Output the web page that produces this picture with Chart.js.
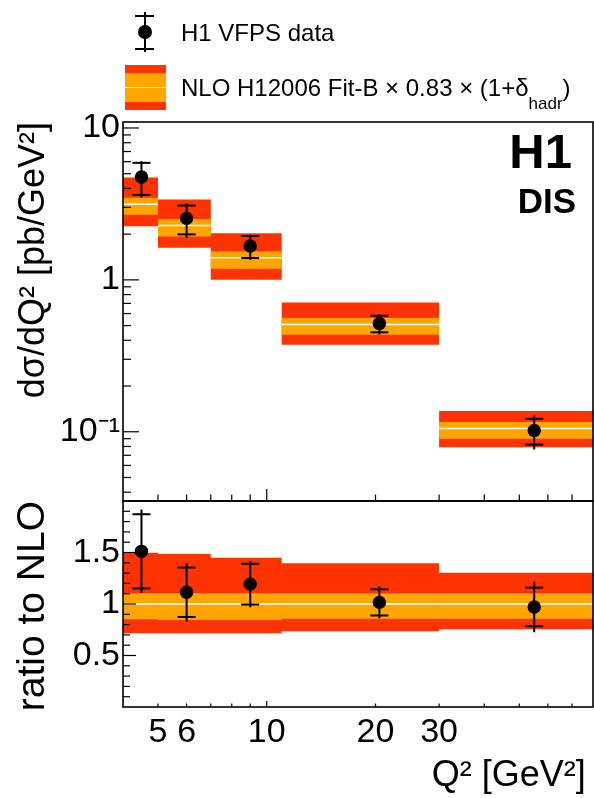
<!DOCTYPE html>
<html>
<head>
<meta charset="utf-8">
<script src="https://cdn.jsdelivr.net/npm/chart.js@4/dist/chart.umd.min.js"></script>
<style>
html,body{margin:0;padding:0;background:#fff;}
#wrap{position:relative;width:594px;height:798px;font-family:"Liberation Sans",Arial,Helvetica,sans-serif;overflow:hidden;}
#c{position:absolute;left:0;top:0;}
.t{position:absolute;white-space:nowrap;color:#000;line-height:1;}
.blk{position:absolute;background:#000;}
</style>
</head>
<body>
<div id="wrap">
<canvas id="c" width="594" height="798"></canvas>
<!-- legend -->
<div class="blk" style="left:143.7px;top:12px;width:2px;height:40px;"></div>
<div class="blk" style="left:135px;top:15px;width:19px;height:2px;"></div>
<div class="blk" style="left:135px;top:48px;width:19px;height:2px;"></div>
<div class="blk" style="left:137.7px;top:25px;width:14px;height:14px;border-radius:50%;"></div>
<div class="t" style="left:181px;top:21px;font-size:24px;">H1 VFPS data</div>
<div style="position:absolute;left:125px;top:65px;width:41px;height:45px;background:linear-gradient(to bottom,#ff3300 0px,#ff3300 7.8px,#ffa500 7.8px,#ffa500 22px,#ffffff 22px,#ffffff 23.2px,#ffa500 23.2px,#ffa500 37.5px,#ff3300 37.5px,#ff3300 45px);"></div>
<div class="t" style="left:181px;top:76px;font-size:24px;">NLO H12006 Fit-B × 0.83 × (1+δ<span style="font-size:17px;position:relative;top:13px;">hadr</span>)</div>
<!-- experiment label -->
<div class="t" style="right:22px;top:126.6px;font-size:49px;font-weight:bold;">H1</div>
<div class="t" style="right:18px;top:183.4px;font-size:35px;font-weight:bold;">DIS</div>
</div>
<script>
// ---------------- data ----------------
const binEdges      = [4, 5, 7, 11, 30, 80];           // Q2 bin edges [GeV^2]
const dataQ2        = [4.5, 6.0, 9.0, 20.5, 55];        // data point positions
const dataXsec      = [4.76, 2.54, 1.67, 0.516, 0.102]; // dsigma/dQ2 [pb/GeV^2]
const dataStat      = [1.135, 0.547, 0.277, 0.0645, 0.0197];
const dataTot       = [1.277, 0.648, 0.315, 0.0787, 0.0257];
const nloXsec       = [3.15, 2.28, 1.40, 0.508, 0.105];
const nloInnerUp    = [1.104, 1.104, 1.104, 1.104, 1.104]; // relative to NLO
const nloInnerDown  = [0.851, 0.845, 0.845, 0.857, 0.857];
const nloOuterUp    = [1.498, 1.485, 1.450, 1.395, 1.304];
const nloOuterDown  = [0.715, 0.715, 0.715, 0.735, 0.754];

const xTickValues   = [5, 6, 10, 20, 30];
const xTickText     = ['5', '6', '10', '20', '30'];
const xMajorTicks   = [10];
const xMinorTicks   = [5, 6, 7, 8, 9, 20, 30, 40, 50, 60, 70];
const yTickValues   = [0.1, 1, 10];
const yTickText     = ['10\u207B\u00B9', '1', '10'];
const yMinorTicks   = [0.04,0.05,0.06,0.07,0.08,0.09,0.2,0.3,0.4,0.5,0.6,0.7,0.8,0.9,2,3,4,5,6,7,8,9];
const rTickValues   = [0.5, 1, 1.5];
const rTickText     = ['0.5', '1', '1.5'];
const rMinorTicks   = [0.1,0.2,0.3,0.4,0.6,0.7,0.8,0.9,1.1,1.2,1.3,1.4,1.6,1.7,1.8,1.9];

// ---------------- helpers ----------------
const RED = '#ff3300', ORANGE = '#ffa500';
const FONT = '"Liberation Sans", Arial, Helvetica, sans-serif';
const mul = (a, b) => a.map((v, i) => v * b[i]);
const ones = nloXsec.map(() => 1);
const stepPts = vals => binEdges.map((e, i) => ({x: e, y: vals[Math.min(i, vals.length - 1)]}));
const flatPts = vals => {
  const out = [];
  vals.forEach((v, i) => { out.push({x: binEdges[i], y: v}, {x: binEdges[i + 1], y: v}, {x: binEdges[i + 1], y: null}); });
  return out;
};
const errLinePts = (xs, vals, errs) => {
  const out = [];
  xs.forEach((x, i) => { out.push({x, y: vals[i] - errs[i]}, {x, y: vals[i] + errs[i]}, {x, y: null}); });
  return out;
};
const capPts = (xs, vals, errs) => {
  const out = [];
  xs.forEach((x, i) => { out.push({x, y: vals[i] - errs[i]}, {x, y: vals[i] + errs[i]}); });
  return out;
};
const pts = (xs, vals) => xs.map((x, i) => ({x, y: vals[i]}));

const ratioVal  = dataXsec.map((v, i) => v / nloXsec[i]);
const ratioStat = dataStat.map((v, i) => v / nloXsec[i]);
const ratioTot  = dataTot.map((v, i) => v / nloXsec[i]);

function panelDatasets(axis, central, vals, stat, tot) {
  const base = {yAxisID: axis, pointRadius: 0, borderWidth: 0, tension: 0};
  return [
    {...base, data: pts(dataQ2, vals), showLine: false, pointRadius: 6.7, pointBackgroundColor: '#000', pointBorderWidth: 0, order: 0},
    {...base, data: capPts(dataQ2, vals, stat), showLine: false, pointStyle: 'line', pointRadius: 9, pointBorderColor: '#000', pointBorderWidth: 2, order: 1},
    {...base, data: errLinePts(dataQ2, vals, tot), borderColor: '#000', borderWidth: 2, spanGaps: false, order: 2},
    {...base, data: flatPts(central), borderColor: '#ffffff', borderWidth: 1.5, spanGaps: false, order: 3},
    {...base, data: stepPts(mul(central, nloInnerUp)), stepped: true, fill: '+1', backgroundColor: ORANGE, order: 4},
    {...base, data: stepPts(mul(central, nloInnerDown)), stepped: true, fill: false, order: 4},
    {...base, data: stepPts(mul(central, nloOuterUp)), stepped: true, fill: '+1', backgroundColor: RED, order: 5},
    {...base, data: stepPts(mul(central, nloOuterDown)), stepped: true, fill: false, order: 5}
  ];
}

// inner tick marks and frames (ROOT style)
const frameTicks = {
  id: 'frameTicks',
  afterDraw(chart) {
    const {ctx} = chart;
    const x = chart.scales.x, y = chart.scales.y, r = chart.scales.yr;
    ctx.save();
    ctx.strokeStyle = '#000';
    const seg = (x0, y0, x1, y1) => { ctx.beginPath(); ctx.moveTo(x0, y0); ctx.lineTo(x1, y1); ctx.stroke(); };
    ctx.lineWidth = 1.2;
    [[y, 6.5, 12], [r, 3.5, 6]].forEach(([p, mi, ma]) => {
      xMinorTicks.forEach(v => { const px = x.getPixelForValue(v); seg(px, p.bottom, px, p.bottom - mi); });
      xMajorTicks.forEach(v => { const px = x.getPixelForValue(v); seg(px, p.bottom, px, p.bottom - ma); });
    });
    yMinorTicks.forEach(v => { const py = y.getPixelForValue(v); seg(x.left, py, x.left + 8, py); });
    yTickValues.forEach(v => { const py = y.getPixelForValue(v); seg(x.left, py, x.left + 16, py); });
    rMinorTicks.forEach(v => { const py = r.getPixelForValue(v); seg(x.left, py, x.left + 7, py); });
    rTickValues.forEach(v => { const py = r.getPixelForValue(v); seg(x.left, py, x.left + 13, py); });
    ctx.lineWidth = 1.6;
    ctx.strokeRect(x.left, y.top, x.right - x.left, y.bottom - y.top);
    ctx.strokeRect(x.left, r.top, x.right - x.left, r.bottom - r.top);
    ctx.restore();
  }
};

const tickFont = {family: FONT, size: 34};
const titleFont = {family: FONT, size: 36};

new Chart(document.getElementById('c'), {
  type: 'line',
  data: {
    datasets: [
      ...panelDatasets('y', nloXsec, dataXsec, dataStat, dataTot),
      ...panelDatasets('yr', ones, ratioVal, ratioStat, ratioTot)
    ]
  },
  options: {
    responsive: false,
    animation: false,
    events: [],
    layout: {autoPadding: false, padding: {top: 122, left: 0, right: 1, bottom: 0}},
    plugins: {legend: {display: false}, tooltip: {enabled: false}},
    scales: {
      x: {
        type: 'logarithmic', position: 'bottom', min: 4, max: 80,
        grid: {display: false, drawTicks: false}, border: {display: false},
        afterBuildTicks: s => { s.ticks = xTickValues.map(v => ({value: v})); },
        afterFit: s => { s.height = 91; },
        ticks: {autoSkip: false, maxRotation: 0, padding: 5, font: tickFont, color: '#000',
                callback: (v, i) => xTickText[i]},
        title: {display: true, text: 'Q\u00B2 [GeV\u00B2]\u2009', align: 'end', color: '#000', font: titleFont,
                padding: {top: 0, bottom: 0}}
      },
      y: {
        type: 'logarithmic', position: 'left', stack: 'panels', stackWeight: 379, weight: 2,
        min: 0.035, max: 10.95,
        grid: {display: false, drawTicks: false}, border: {display: false},
        afterBuildTicks: s => { s.ticks = yTickValues.map(v => ({value: v})); },
        afterFit: s => { s.width = 123; },
        ticks: {autoSkip: false, padding: 3, font: tickFont, color: '#000', callback: (v, i) => yTickText[i]},
        title: {display: true, text: 'd\u03C3/dQ\u00B2 [pb/GeV\u00B2]', align: 'end', color: '#000', font: titleFont,
                padding: {top: 12, bottom: 0}}
      },
      yr: {
        type: 'linear', position: 'left', stack: 'panels', stackWeight: 206, weight: 1,
        min: 0, max: 2,
        grid: {display: false, drawTicks: false}, border: {display: false},
        afterBuildTicks: s => { s.ticks = rTickValues.map(v => ({value: v})); },
        afterFit: s => { s.width = 123; },
        ticks: {autoSkip: false, padding: 3, font: tickFont, color: '#000', callback: (v, i) => rTickText[i]},
        title: {display: true, text: 'ratio to NLO', align: 'end', color: '#000', font: {family: FONT, size: 39},
                padding: {top: 10, bottom: 0}}
      }
    }
  },
  plugins: [frameTicks]
});
</script>
</body>
</html>
